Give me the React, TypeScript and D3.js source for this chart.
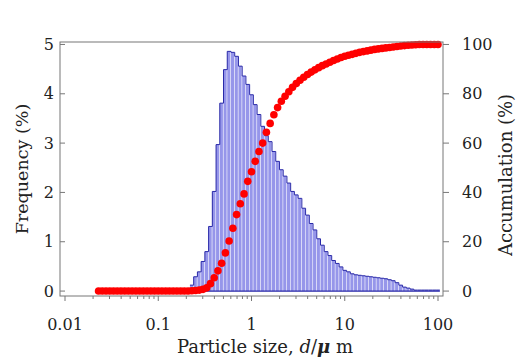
import React from 'react';
import * as d3 from 'd3';

// particle size grid (µm), one entry per measured channel
const sizes = [
  0.02291, 0.02512, 0.02754, 0.0302, 0.03311, 0.03631, 0.03981, 0.04365, 0.04786, 0.05248,
  0.05754, 0.0631, 0.06918, 0.07586, 0.08318, 0.0912, 0.1, 0.1096, 0.1202, 0.1318,
  0.1445, 0.1585, 0.1738, 0.1905, 0.2089, 0.2291, 0.2512, 0.2754, 0.302, 0.3311,
  0.3631, 0.3981, 0.4365, 0.4786, 0.5248, 0.5754, 0.631, 0.6918, 0.7586, 0.8318,
  0.912, 1.0, 1.096, 1.202, 1.318, 1.445, 1.585, 1.738, 1.905, 2.089,
  2.291, 2.512, 2.754, 3.02, 3.311, 3.631, 3.981, 4.365, 4.786, 5.248,
  5.754, 6.31, 6.918, 7.586, 8.318, 9.12, 10.0, 10.96, 12.02, 13.18,
  14.45, 15.85, 17.38, 19.05, 20.89, 22.91, 25.12, 27.54, 30.2, 33.11,
  36.31, 39.81, 43.65, 47.86, 52.48, 57.54, 63.1, 69.18, 75.86, 83.18,
  91.2, 100.0,
];

// frequency (%) per channel
const frequency = [
  0, 0, 0, 0, 0, 0, 0, 0, 0, 0,
  0, 0, 0, 0, 0, 0, 0, 0, 0, 0,
  0, 0, 0, 0, 0, 0.12, 0.29, 0.39, 0.6, 0.8,
  1.31, 2.02, 2.97, 3.81, 4.49, 4.86, 4.84, 4.76, 4.56, 4.36,
  4.19, 3.98, 3.78, 3.58, 3.34, 3.15, 3.03, 2.83, 2.63, 2.46,
  2.33, 2.19, 2.02, 1.95, 1.88, 1.68, 1.54, 1.37, 1.24, 1.06,
  0.93, 0.8, 0.72, 0.62, 0.56, 0.49, 0.42, 0.39, 0.35, 0.33,
  0.32, 0.31, 0.3, 0.29, 0.28, 0.27, 0.26, 0.25, 0.23, 0.21,
  0.17, 0.12, 0.08, 0.06, 0.04, 0.02, 0.02, 0.02, 0.02, 0.02,
  0.02, 0.02,
];

// accumulation (%) per channel
const accumulation = [
  0, 0, 0, 0, 0, 0, 0, 0, 0, 0,
  0, 0, 0, 0, 0, 0, 0, 0, 0, 0,
  0, 0, 0, 0, 0, 0.1, 0.2, 0.4, 0.7, 1.3,
  3.0, 5.4, 8.2, 11.3, 15.5, 20.3, 25.5, 31.0, 35.4, 39.4,
  44.5, 48.4, 52.6, 56.6, 60.0, 64.4, 68.0, 71.5, 74.4, 77.0,
  79.0, 80.8, 82.6, 84.2, 85.5, 86.7, 87.8, 88.8, 89.7, 90.6,
  91.4, 92.1, 92.8, 93.5, 94.1, 94.7, 95.2, 95.6, 96.0, 96.4,
  96.8, 97.1, 97.4, 97.7, 98.0, 98.2, 98.4, 98.6, 98.8, 99.0,
  99.2, 99.4, 99.55, 99.7, 99.8, 99.9, 100, 100, 100, 100,
  100, 100,
];

const xTicks = [0.01, 0.1, 1, 10, 100];
const freqTicks = [0, 1, 2, 3, 4, 5];
const accTicks = [0, 20, 40, 60, 80, 100];

const W = 519;
const H = 358;
const BOX = { left: 60, right: 443, top: 42, bottom: 296 };
const FONT = '"DejaVu Serif", serif';
const AXIS = '#777';
const TEXT = '#222';

export default function App() {
  const x = d3.scaleLog().domain([0.01, 100]).range([65, 438]);
  const yF = d3.scaleLinear().domain([-0.1, 5.05]).range([BOX.bottom, BOX.top]);
  const yA = d3.scaleLinear().domain([-2, 101]).range([BOX.bottom, BOX.top]);

  // bar edges halfway (in log) between neighbouring channels
  const edge = (i: number) => {
    if (i <= 0) return sizes[0] / Math.sqrt(sizes[1] / sizes[0]);
    if (i >= sizes.length) return sizes[sizes.length - 1] * Math.sqrt(sizes[sizes.length - 1] / sizes[sizes.length - 2]);
    return Math.sqrt(sizes[i - 1] * sizes[i]);
  };

  const bars = sizes
    .map((s, i) => ({ x0: x(edge(i)), x1: x(edge(i + 1)), v: frequency[i] }))
    .filter(b => b.v > 0);

  const outline = d3.line<{ x0: number; x1: number; v: number }>()
    .x(d => d.x0)
    .y(d => yF(d.v))
    .curve(d3.curveStepAfter);
  const last = bars[bars.length - 1];
  const outlinePts = [...bars, { x0: last.x1, x1: last.x1, v: last.v }];

  const minor: number[] = [];
  for (let e = -2; e < 2; e++) {
    for (let m = 2; m <= 9; m++) minor.push(m * Math.pow(10, e));
  }

  return (
    <svg width={W} height={H} style={{ position: 'absolute', left: 0, top: 0, background: '#fff' }}>
      {/* histogram */}
      <g>
        {bars.map((b, i) => (
          <rect key={i} x={b.x0} y={yF(b.v)} width={Math.max(0, b.x1 - b.x0 - 0.6)}
            height={yF(0) - yF(b.v)} fill="#9696ea" />
        ))}
        <path d={outline(outlinePts) || ''} fill="none" stroke="#2828a8" strokeWidth={1} />
        <line x1={bars[0].x0} x2={last.x1} y1={yF(0)} y2={yF(0)} stroke="#2828a8" strokeWidth={1.2} />
      </g>

      {/* accumulation */}
      <g>
        {sizes.map((s, i) => (
          <circle key={i} cx={x(s)} cy={yA(accumulation[i])} r={3.8} fill="#ff0000" />
        ))}
      </g>

      {/* frame */}
      <rect x={BOX.left} y={BOX.top} width={BOX.right - BOX.left} height={BOX.bottom - BOX.top}
        fill="none" stroke={AXIS} strokeWidth={1} />

      {/* bottom axis */}
      <g fontFamily={FONT} fontSize={16} fill={TEXT}>
        {xTicks.map(t => (
          <g key={t}>
            <line x1={x(t)} x2={x(t)} y1={BOX.bottom} y2={BOX.bottom + 5} stroke={AXIS} />
            <text x={x(t)} y={BOX.bottom + 34} textAnchor="middle">{t}</text>
          </g>
        ))}
        {minor.map(t => (
          <line key={t} x1={x(t)} x2={x(t)} y1={BOX.bottom} y2={BOX.bottom + 3} stroke={AXIS} />
        ))}
      </g>

      {/* left axis */}
      <g fontFamily={FONT} fontSize={16} fill={TEXT}>
        {freqTicks.map(t => (
          <g key={t}>
            <line x1={BOX.left} x2={BOX.left + 5} y1={yF(t)} y2={yF(t)} stroke={AXIS} />
            <text x={BOX.left - 6} y={yF(t) + 5.5} textAnchor="end">{t}</text>
          </g>
        ))}
      </g>

      {/* right axis */}
      <g fontFamily={FONT} fontSize={16} fill={TEXT}>
        {accTicks.map(t => (
          <g key={t}>
            <line x1={BOX.right} x2={BOX.right + 6} y1={yA(t)} y2={yA(t)} stroke={AXIS} />
            <text x={BOX.right + 19} y={yA(t) + 5.5} textAnchor="start">{t}</text>
          </g>
        ))}
      </g>

      {/* titles */}
      <text transform={`translate(28,${(BOX.top + BOX.bottom) / 2}) rotate(-90)`} textAnchor="middle"
        fontFamily={FONT} fontSize={17.5} fill={TEXT}>Frequency (%)</text>
      <text transform={`translate(512,${(BOX.top + BOX.bottom) / 2 + 6}) rotate(-90)`} textAnchor="middle"
        fontFamily={FONT} fontSize={18} fill={TEXT}>Accumulation (%)</text>
      <text x={265} y={353} textAnchor="middle" fontFamily={FONT} fontSize={18} fill={TEXT}>
        Particle size, <tspan fontStyle="italic">d</tspan>/<tspan fontStyle="italic" fontWeight="bold">μ</tspan> m
      </text>
    </svg>
  );
}
